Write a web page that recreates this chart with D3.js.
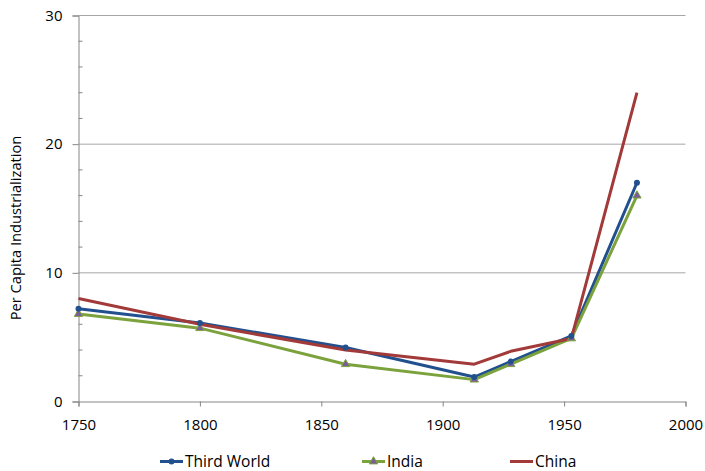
<!DOCTYPE html>
<html>
<head>
<meta charset="utf-8">
<script src="https://cdn.jsdelivr.net/npm/d3@7"></script>
<style>
  body { margin: 0; background: #fff; }
  svg text { font-family: "Open Sans", "Noto Sans", sans-serif; fill: #000; }
</style>
</head>
<body>
<svg id="chart" width="705" height="471"></svg>
<script>
// Per capita industrialization levels, by year
const years = [1750, 1800, 1860, 1913, 1928, 1953, 1980];
const thirdWorld = [7.2, 6.1, 4.2, 1.9, 3.1, 5.1, 17];
const india = [6.8, 5.7, 2.9, 1.7, 2.9, 4.9, 16];
const china = [8, 6, 4, 2.9, 3.9, 4.9, 24];
const seriesNames = ["Third World", "India", "China"];
const xTicks = [1750, 1800, 1850, 1900, 1950, 2000];
const yTicks = [0, 10, 20, 30];
const yMinorTicks = [2, 4, 6, 8, 12, 14, 16, 18, 22, 24, 26, 28];

const colors = { "Third World": "#22508e", "India": "#7ba23c", "China": "#a33a3a" };
const seriesData = [thirdWorld, india, china];

const svg = d3.select("#chart");

const x = d3.scaleLinear().domain([1750, 2000]).range([78.5, 685.5]);
const y = d3.scaleLinear().domain([0, 30]).range([401.5, 15.5]);

// horizontal gridlines
svg.append("g").selectAll("line").data(yTicks.filter(d => d > 0)).join("line")
  .attr("x1", x(1750)).attr("x2", x(2000))
  .attr("y1", d => y(d)).attr("y2", d => y(d))
  .attr("stroke", "#a6a6a6").attr("stroke-width", 1);

// y axis
const yAxis = svg.append("g").attr("transform", `translate(${x(1750)},0)`)
  .call(d3.axisLeft(y).tickValues(yTicks).tickSize(6).tickPadding(10).tickFormat(d3.format("d")));
yAxis.select(".domain").attr("stroke", "#868686");
yAxis.selectAll(".tick line").attr("stroke", "#868686");
yAxis.selectAll(".tick text").attr("font-size", 15);
// minor ticks inside
svg.append("g").selectAll("line").data(yMinorTicks).join("line")
  .attr("x1", x(1750)).attr("x2", x(1750) + 4)
  .attr("y1", d => y(d)).attr("y2", d => y(d))
  .attr("stroke", "#868686");

// x axis
const xAxis = svg.append("g").attr("transform", `translate(0,${y(0)})`)
  .call(d3.axisBottom(x).tickValues(xTicks).tickSize(5).tickPadding(13).tickFormat(d3.format("d")));
xAxis.select(".domain").attr("stroke", "#868686");
xAxis.selectAll(".tick line").attr("stroke", "#868686");
xAxis.selectAll(".tick text").attr("font-size", 15);

// y axis title
svg.append("text")
  .attr("transform", `translate(21,228) rotate(-90)`)
  .attr("text-anchor", "middle")
  .attr("font-size", 14.7)
  .text("Per Capita Industrialization");

const line = d3.line().x((d, i) => x(years[i])).y(d => y(d));

// series lines
seriesNames.forEach((name, k) => {
  svg.append("path")
    .datum(seriesData[k])
    .attr("d", line)
    .attr("fill", "none")
    .attr("stroke", colors[name])
    .attr("stroke-width", 3)
    .attr("stroke-linejoin", "round");
});

// markers: circles for Third World, triangles for India
const tri = d3.symbol().type(d3.symbolTriangle).size(30);
svg.append("g").selectAll("path").data(india).join("path")
  .attr("d", tri)
  .attr("transform", (d, i) => `translate(${x(years[i])},${y(d)})`)
  .attr("fill", "#7a5c9a").attr("stroke", "#7ba23c").attr("stroke-width", 1);
svg.append("g").selectAll("circle").data(thirdWorld).join("circle")
  .attr("cx", (d, i) => x(years[i])).attr("cy", d => y(d)).attr("r", 3)
  .attr("fill", colors["Third World"]);

// legend
const legendX = [160, 362, 510];
const ly = 461.5;
seriesNames.forEach((name, k) => {
  const g = svg.append("g").attr("transform", `translate(${legendX[k]},${ly})`);
  g.append("line").attr("x1", 0).attr("x2", 23).attr("y1", 0).attr("y2", 0)
    .attr("stroke", colors[name]).attr("stroke-width", 3);
  if (name === "Third World") {
    g.append("circle").attr("cx", 11.5).attr("cy", 0).attr("r", 3).attr("fill", colors[name]);
  } else if (name === "India") {
    g.append("path").attr("d", tri).attr("transform", "translate(11.5,0)")
      .attr("fill", "#7a5c9a").attr("stroke", "#7ba23c");
  }
  g.append("text").attr("x", 25).attr("y", 5.5).attr("font-size", 15.5).text(name);
});
</script>
</body>
</html>
